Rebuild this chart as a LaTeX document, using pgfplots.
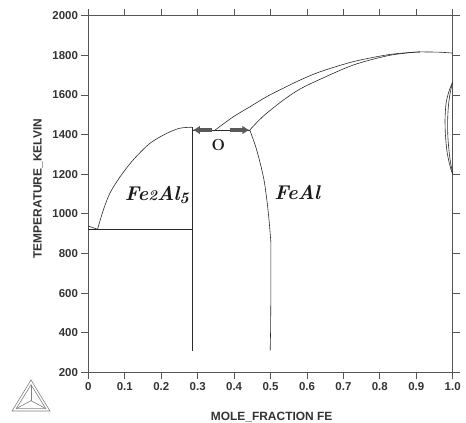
\documentclass[border=0pt]{standalone}
\usepackage{fontspec}
\setsansfont{Liberation Sans}
\usepackage{pgfplots}
\pgfplotsset{compat=1.18}
\usetikzlibrary{arrows.meta}
\definecolor{axgray}{HTML}{555555}
\definecolor{txtgray}{HTML}{333333}
\definecolor{arrgray}{HTML}{5A5A5A}
\definecolor{curve}{HTML}{2A2A2A}
\begin{document}
\begin{tikzpicture}
\useasboundingbox (-88.4bp,-50.7bp) rectangle (377.6bp,372.3bp);
\begin{axis}[
  scale only axis, width=364.3bp, height=356.6bp,
  xmin=0, xmax=1, ymin=200, ymax=2000,
  xtick={0,0.1,0.2,0.3,0.4,0.5,0.6,0.7,0.8,0.9,1.0},
  xticklabels={0,0.1,0.2,0.3,0.4,0.5,0.6,0.7,0.8,0.9,1.0},
  ytick={200,400,600,800,1000,1200,1400,1600,1800,2000},
  yticklabels={200,400,600,800,1000,1200,1400,1600,1800,2000},
  tick align=outside, major tick length=7bp, tick pos=both,
  xticklabel pos=bottom, yticklabel pos=left,
  axis line style={axgray, line width=0.8pt},
  tick style={axgray, line width=0.8pt},
  ticklabel style={font=\sffamily\bfseries\fontsize{11.5}{12}\selectfont, text=txtgray},
  xlabel={MOLE\_FRACTION FE}, ylabel={TEMPERATURE\_KELVIN},
  label style={font=\sffamily\bfseries\fontsize{12}{12}\selectfont, text=txtgray},
  xlabel style={at={(axis description cs:0.503,-0.1245)}, anchor=center},
  ylabel style={at={(axis description cs:-0.138,0.515)}, anchor=center},
  clip=false,
]
% left small segment and eutectic line
\addplot[curve, line width=0.6pt] coordinates {(0,938) (0.025,922)};
\addplot[curve, line width=0.6pt] coordinates {(0,922) (0.285,922)};
% Fe2Al5 liquidus
\addplot[curve, line width=0.6pt, smooth, tension=0.5] coordinates {
 (0.025,922) (0.041,1019) (0.059,1104) (0.087,1187) (0.123,1272) (0.169,1356)
 (0.215,1406) (0.251,1432) (0.284,1437)};
% Fe2Al5 vertical
\addplot[curve, line width=0.6pt] coordinates {(0.285,1437) (0.285,305)};
% three-phase line
\addplot[curve, line width=0.6pt] coordinates {(0.285,1423) (0.443,1423)};
% liquidus
\addplot[curve, line width=0.6pt, smooth, tension=0.5] coordinates {
 (0.348,1423) (0.398,1490) (0.444,1541) (0.489,1591) (0.535,1634) (0.581,1675)
 (0.636,1717) (0.727,1768) (0.819,1802) (0.88,1814) (0.91,1817) (0.96,1816)
 (0.988,1813) (1.0,1811)};
% solidus
\addplot[curve, line width=0.6pt, smooth, tension=0.5] coordinates {
 (0.443,1423) (0.466,1468) (0.489,1507) (0.535,1574) (0.581,1630) (0.636,1679)
 (0.727,1751) (0.819,1797) (0.88,1813) (0.91,1817)};
% FeAl boundary
\addplot[curve, line width=0.6pt, smooth, tension=0.5] coordinates {
 (0.443,1423) (0.462,1322) (0.482,1171) (0.494,1003) (0.501,853)};
\addplot[curve, line width=0.6pt] coordinates {
 (0.501,853) (0.501,600) (0.500,400) (0.499,310)};
% gamma loop
\addplot[curve, line width=0.6pt, smooth, tension=0.5] coordinates {
 (1.0,1665) (0.990,1620) (0.982,1560) (0.979,1480) (0.980,1400) (0.984,1320)
 (0.990,1260) (0.996,1220) (1.0,1200)};
\addplot[curve, line width=0.6pt, smooth, tension=0.5] coordinates {
 (1.0,1665) (0.993,1610) (0.988,1540) (0.986,1460) (0.987,1380) (0.991,1300)
 (0.995,1250) (1.0,1200)};
% arrows
\addplot[draw=arrgray, fill=arrgray, line width=3.2pt, -{Latex[length=7bp,width=9bp]}] coordinates {(0.340,1423) (0.287,1423)};
\addplot[draw=arrgray, fill=arrgray, line width=3.2pt, -{Latex[length=7bp,width=9bp]}] coordinates {(0.388,1423) (0.442,1423)};
% labels
\node[font=\fontsize{20}{20}\selectfont\bfseries\itshape, text=black!90] at (axis cs:0.188,1094) {Fe{\fontsize{15}{15}\selectfont 2}Al\raisebox{-2.5pt}{\fontsize{16}{16}\selectfont 5}};
\node[font=\fontsize{20}{20}\selectfont\bfseries\itshape, text=black!90] at (axis cs:0.573,1110) {FeAl};
\node[font=\fontsize{16}{16}\selectfont\bfseries, text=black!90] at (axis cs:0.357,1345) {O};
\end{axis}
% Thermo-Calc style logo
\begin{scope}[draw=gray, line width=0.6pt]
\draw (-76.4bp,-38.7bp) -- (-38.4bp,-38.7bp) -- (-57.4bp,-7.7bp) -- cycle;
\draw (-72.2bp,-36.3bp) -- (-42.6bp,-36.3bp) -- (-57.4bp,-12.4bp) -- cycle;
\draw (-57.4bp,-28.4bp) -- (-57.4bp,-12.4bp);
\draw (-57.4bp,-28.4bp) -- (-72.2bp,-36.3bp);
\draw (-57.4bp,-28.4bp) -- (-42.6bp,-36.3bp);
\end{scope}
\end{tikzpicture}
\end{document}
